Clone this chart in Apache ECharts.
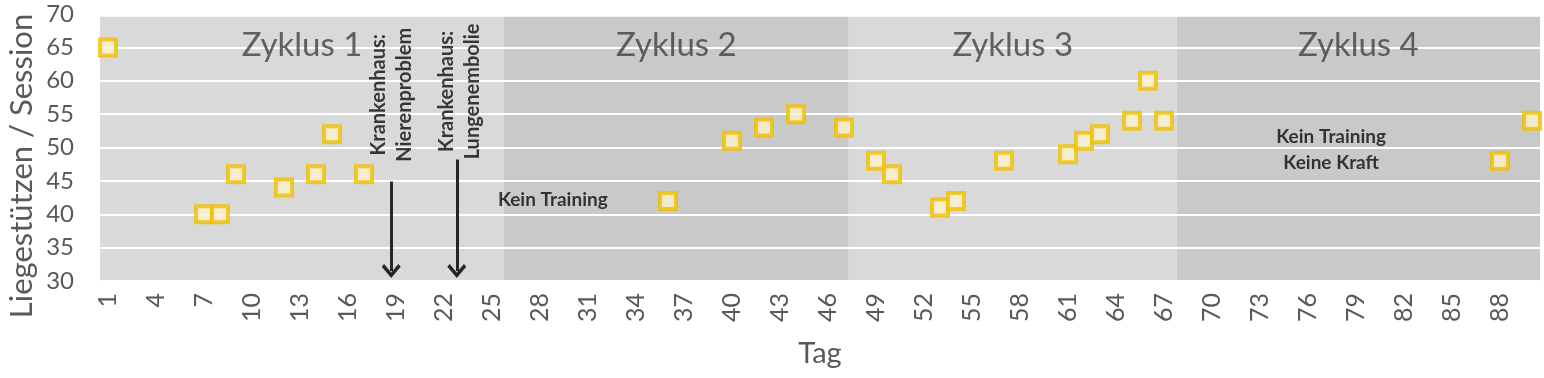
<!DOCTYPE html>
<html>
<head>
<meta charset="utf-8">
<script src="https://cdn.jsdelivr.net/npm/echarts@6/dist/echarts.min.js"></script>
<style>
  html, body { margin: 0; padding: 0; background: #fff; }
  #chartBox { width: 1544px; height: 378px; }
</style>
</head>
<body>
<div id="chartBox"></div>
<script>
// Tage mit Training und Liegestützen pro Session
const days = [1, 7, 8, 9, 12, 14, 15, 17, 36, 40, 42, 44, 47, 49, 50, 53, 54, 57, 61, 62, 63, 65, 66, 67, 88, 90];
const pushUps = [65, 40, 40, 46, 44, 46, 52, 46, 42, 51, 53, 55, 53, 48, 46, 41, 42, 48, 49, 51, 52, 54, 60, 54, 48, 54];

const tickDays = [1, 4, 7, 10, 13, 16, 19, 22, 25, 28, 31, 34, 37, 40, 43, 46, 49, 52, 55, 58, 61, 64, 67, 70, 73, 76, 79, 82, 85, 88];

// Zyklen (Hintergrundbereiche)
const cycleNames = ["Zyklus 1", "Zyklus 2", "Zyklus 3", "Zyklus 4"];
const cycleStart = [0.5, 25.75, 47.3, 67.8];
const cycleEnd = [25.75, 47.3, 67.8, 90.5];
const cycleColors = ["#d9d9d9", "#c9c9c9", "#d9d9d9", "#c9c9c9"];
const cycleLabelValue = 65.35;

// Anmerkungen
const noteTexts = ["Krankenhaus:\nNierenproblem", "Krankenhaus:\nLungenembolie", "Kein Training", "Kein Training", "Keine Kraft"];
const noteDays = [18.75, 22.95, 28.8, 77.45, 77.45];
const noteValues = [57.9, 58.4, 42.1, 51.6, 47.7];
const noteRotate = [90, 90, 0, 0, 0];

// Pfeile (Krankenhaus)
const arrowDays = [18.7, 22.8];
const arrowFrom = [44.9, 48.2];
const arrowTo = [31.5, 31.5];

const font = "Lato, 'Noto Sans', sans-serif";
const chart = echarts.init(document.getElementById("chartBox"));

const option = {
  animation: false,
  textStyle: { fontFamily: font },
  grid: { left: 100, right: 4, top: 14, bottom: 97 },
  xAxis: {
    type: "value",
    min: 0.5,
    max: 90.5,
    name: "Tag",
    nameLocation: "middle",
    nameGap: 58,
    nameTextStyle: { fontSize: 29, color: "#595959", fontFamily: font },
    axisLine: { show: true, lineStyle: { color: "#d0d0d0", width: 1 } },
    axisTick: { show: false },
    splitLine: { show: false },
    axisLabel: {
      customValues: tickDays,
      rotate: 90,
      margin: 12,
      fontSize: 25,
      color: "#595959",
      fontFamily: font
    }
  },
  yAxis: {
    type: "value",
    min: 30,
    max: 70,
    interval: 5,
    z: 3,
    axisLine: { show: false },
    axisTick: { show: false },
    splitLine: { show: true, lineStyle: { color: "#ffffff", width: 2 } },
    axisLabel: { fontSize: 24, color: "#595959", margin: 26, fontFamily: font }
  },
  graphic: [
    {
      type: "text",
      x: 22,
      y: 166,
      rotation: Math.PI / 2,
      style: {
        text: "Liegestützen / Session",
        fontSize: 31,
        fontFamily: font,
        fill: "#595959",
        textAlign: "center",
        textVerticalAlign: "middle"
      }
    }
  ],
  series: [
    {
      name: "Zyklen",
      type: "scatter",
      data: [],
      z: 1,
      silent: true,
      markArea: {
        silent: true,
        label: { show: false },
        data: cycleNames.map((n, i) => [
          { xAxis: cycleStart[i], yAxis: 30, itemStyle: { color: cycleColors[i] } },
          { xAxis: cycleEnd[i], yAxis: 69.6 }
        ])
      }
    },
    {
      name: "Zyklusnamen",
      type: "scatter",
      z: 4,
      silent: true,
      symbolSize: 0,
      data: cycleNames.map((n, i) => ({
        value: [(cycleStart[i] + cycleEnd[i]) / 2, cycleLabelValue],
        label: {
          show: true,
          position: "inside",
          formatter: n,
          fontSize: 33,
          color: "#404040",
          fontFamily: font,
          align: "center",
          verticalAlign: "middle"
        }
      }))
    },
    {
      name: "Liegestützen",
      type: "scatter",
      z: 5,
      symbol: "rect",
      symbolSize: 16,
      itemStyle: { color: "#fff2cc", borderColor: "#f0bf00", borderWidth: 4 },
      data: days.map((d, i) => [d, pushUps[i]])
    },
    {
      name: "Anmerkungen",
      type: "scatter",
      z: 6,
      silent: true,
      symbolSize: 0,
      data: noteTexts.map((t, i) => ({
        value: [noteDays[i], noteValues[i]],
        label: {
          show: true,
          position: "inside",
          formatter: t,
          rotate: noteRotate[i],
          fontSize: noteRotate[i] ? 20 : 19,
          fontWeight: "bold",
          lineHeight: 26,
          color: "#0d0d0d",
          fontFamily: font,
          align: "center",
          verticalAlign: "middle"
        }
      })),
      markLine: {
        silent: true,
        symbol: ["none", "path://M0,10 L10,0 L20,10 L17.5,12.5 L10,5 L2.5,12.5 Z"],
        symbolSize: [19, 14],
        label: { show: false },
        lineStyle: { color: "#262626", width: 3, type: "solid" },
        data: arrowDays.map((d, i) => [
          { coord: [d, arrowFrom[i]] },
          { coord: [d, arrowTo[i]] }
        ])
      }
    }
  ]
};

chart.setOption(option);
</script>
</body>
</html>
